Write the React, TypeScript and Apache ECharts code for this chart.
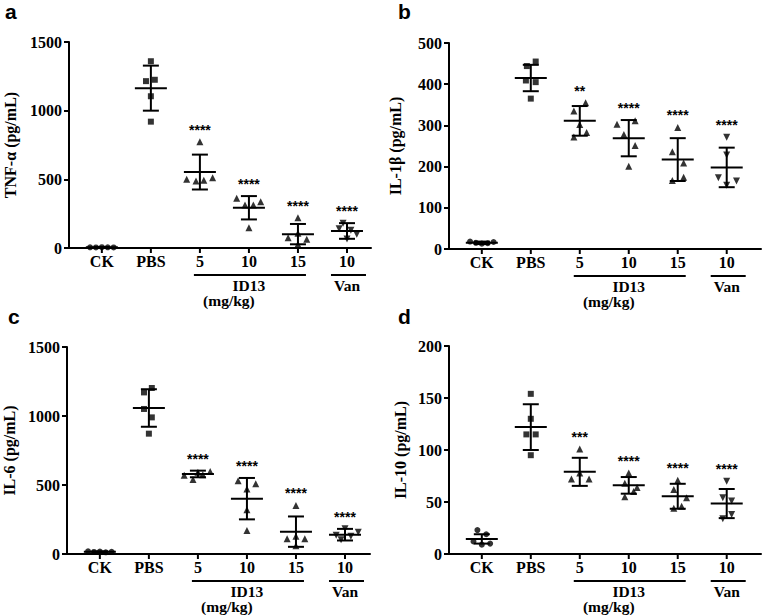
import React, { useEffect, useRef } from "react";
import * as echarts from "echarts";

// ---------- shared categories ----------
const categories = ["CK", "PBS", "5", "10", "15", "10"];
const groupSymbols = ["circle", "rect", "triangle", "triangle", "triangle", "triangle"];
const groupRotate = [0, 0, 0, 0, 0, 180];
const treatmentLabels = ["ID13", "Van"];
const treatmentFrom = [2, 5];
const treatmentTo = [4, 5];
const treatmentSub = ["(mg/kg)", ""];

// ---------- panel a : TNF-α ----------
const tnfTitle = "TNF-α (pg/mL)";
const tnfPoints = [
  [5, 4, 6, 5, 4],
  [1360, 1215, 1225, 1105, 920],
  [774, 500, 488, 493, 512],
  [362, 313, 313, 337, 148],
  [221, 75, 107, 63, 27],
  [180, 140, 130, 100, 65],
];
const tnfJitter = [
  [-0.24, -0.12, 0, 0.12, 0.24],
  [0, -0.1, 0.08, 0, 0],
  [0, -0.27, -0.08, 0.08, 0.26],
  [-0.25, -0.08, 0.09, 0.24, 0],
  [0, -0.2, 0, 0.18, 0],
  [-0.08, -0.16, 0.08, 0.2, 0],
];
const tnfMean = [5, 1164, 553, 293, 101, 124];
const tnfSd = [2, 164, 127, 85, 74, 57];
const tnfStars = ["", "", "****", "****", "****", "****"];

// ---------- panel b : IL-1β ----------
const il1Title = "IL-1β (pg/mL)";
const il1Points = [
  [18, 15, 13, 14, 17],
  [444, 455, 409, 405, 365],
  [355, 335, 302, 272, 283],
  [303, 311, 278, 251, 201],
  [295, 236, 209, 166, 174],
  [271, 228, 173, 165, 155],
];
const il1Jitter = [
  [-0.24, -0.12, 0, 0.12, 0.24],
  [-0.08, 0.1, -0.1, 0.1, 0],
  [0.12, -0.12, 0, -0.12, 0.14],
  [-0.24, 0.13, -0.1, 0.13, 0],
  [0, -0.11, 0.12, -0.11, 0.12],
  [0, 0, -0.17, 0.2, 0],
];
const il1Mean = [15, 415, 311, 269, 217, 198];
const il1Sd = [3, 32, 36, 44, 52, 48];
const il1Stars = ["", "", "**", "****", "****", "****"];

// ---------- panel c : IL-6 ----------
const il6Title = "IL-6 (pg/mL)";
const il6Points = [
  [20, 15, 18, 12, 16],
  [1203, 1171, 1051, 990, 872],
  [570, 540, 592, 575, 598],
  [531, 509, 471, 321, 171],
  [352, 111, 128, 111, 60],
  [183, 135, 104, 128, 157],
];
const il6Jitter = [
  [-0.24, -0.12, 0, 0.12, 0.24],
  [0.06, -0.1, -0.1, 0.06, 0],
  [-0.28, -0.1, 0, 0.1, 0.25],
  [-0.18, 0.18, 0, 0, 0],
  [0, -0.18, 0, 0.18, 0],
  [0, -0.18, -0.08, 0.12, 0.27],
];
const il6Mean = [16, 1058, 580, 401, 162, 140];
const il6Sd = [3, 136, 24, 150, 110, 42];
const il6Stars = ["", "", "****", "****", "****", "****"];

// ---------- panel d : IL-10 ----------
const il10Title = "IL-10 (pg/mL)";
const il10Points = [
  [23, 19, 12, 9, 10],
  [154, 130, 115, 115, 95],
  [101, 72, 72, 78],
  [78, 68, 64, 60, 55],
  [71, 62, 54, 44, 46],
  [70, 54, 51, 38, 34],
];
const il10Jitter = [
  [-0.09, 0.09, -0.17, 0, 0.17],
  [0, 0, -0.09, 0.1, 0],
  [0, -0.17, 0.19, 0],
  [0, -0.08, 0.17, 0.1, -0.08],
  [0, -0.08, 0.18, -0.08, 0.08],
  [0, -0.08, 0.1, 0.1, -0.08],
];
const il10Mean = [14.5, 122, 79, 66, 55.5, 48.5];
const il10Sd = [4.5, 22, 13.5, 8, 12, 14];
const il10Stars = ["", "", "***", "****", "****", "****"];

// ---------- layout (not data) ----------
const SERIF = '"Liberation Serif", "Times New Roman", serif';
const SANS = '"Liberation Sans", Arial, sans-serif';
const STAR_FONT = `bold 14px ${SANS}`;

const panels = [
  { letter: "a", lx: 5, ly: 22, title: tnfTitle, points: tnfPoints, jitter: tnfJitter, mean: tnfMean, sd: tnfSd, stars: tnfStars,
    grid: { left: 69, top: 42, right: 391, bottom: 367 }, xMin: -0.67, xMax: 5.49, yMax: 1500, step: 500, nameGap: 51 },
  { letter: "b", lx: 398, ly: 22, title: il1Title, points: il1Points, jitter: il1Jitter, mean: il1Mean, sd: il1Sd, stars: il1Stars,
    grid: { left: 449, top: 43, right: 1, bottom: 366 }, xMin: -0.67, xMax: 5.7, yMax: 500, step: 100, nameGap: 46 },
  { letter: "c", lx: 8, ly: 327, title: il6Title, points: il6Points, jitter: il6Jitter, mean: il6Mean, sd: il6Sd, stars: il6Stars,
    grid: { left: 67, top: 347, right: 392, bottom: 61 }, xMin: -0.67, xMax: 5.51, yMax: 1500, step: 500, nameGap: 50 },
  { letter: "d", lx: 398, ly: 327, title: il10Title, points: il10Points, jitter: il10Jitter, mean: il10Mean, sd: il10Sd, stars: il10Stars,
    grid: { left: 449, top: 346, right: 1, bottom: 61 }, xMin: -0.67, xMax: 5.7, yMax: 200, step: 50, nameGap: 41 },
];

const treatmentPadL = [6, 16];
const treatmentPadR = [8, 19];

function textEl(text: string, x: number, y: number, font: string) {
  return {
    type: "text",
    style: {
      text, x, y,
      textAlign: "center", textVerticalAlign: "middle", align: "center", verticalAlign: "middle",
      font, fill: "#000",
    },
  };
}

function buildOption() {
  const grids: any[] = [];
  const xAxes: any[] = [];
  const yAxes: any[] = [];
  const series: any[] = [];
  const graphics: any[] = [];

  panels.forEach((p, pi) => {
    grids.push({ ...p.grid, containLabel: false, outerBoundsMode: "none" });
    xAxes.push({
      gridIndex: pi, type: "value", min: p.xMin, max: p.xMax,
      axisLine: { show: true, onZero: false, lineStyle: { color: "#000", width: 2 } },
      axisTick: { show: false }, axisLabel: { show: false }, splitLine: { show: false },
    });
    yAxes.push({
      gridIndex: pi, type: "value", min: 0, max: p.yMax, interval: p.step,
      name: p.title, nameLocation: "middle", nameGap: p.nameGap, nameRotate: 90,
      nameTextStyle: { color: "#000", fontFamily: SERIF, fontWeight: "bold", fontSize: 16 },
      axisLine: { show: true, onZero: false, lineStyle: { color: "#000", width: 2 } },
      axisTick: { show: true, length: 5, lineStyle: { color: "#000", width: 2 } },
      axisLabel: { color: "#000", fontFamily: SERIF, fontWeight: "bold", fontSize: 16, margin: 7, formatter: (v: number) => String(v) },
      splitLine: { show: false },
    });

    // individual animals
    const pts: any[] = [];
    p.points.forEach((grp, gi) => {
      grp.forEach((v, k) => {
        pts.push({
          value: [gi + p.jitter[gi][k], v],
          symbol: groupSymbols[gi],
          symbolRotate: groupRotate[gi],
          symbolSize: groupSymbols[gi] === "triangle" ? 7 : 6,
        });
      });
    });
    series.push({ type: "scatter", xAxisIndex: pi, yAxisIndex: pi, data: pts, itemStyle: { color: "#000" }, z: 3 });

    // mean ± SD bars and significance stars
    const ebData = p.mean.map((m, gi) => [gi, m, p.sd[gi], Math.max(m + p.sd[gi], ...p.points[gi])]);
    const stars = p.stars;
    series.push({
      type: "custom", xAxisIndex: pi, yAxisIndex: pi, clip: false, z: 2,
      itemStyle: { color: "#000" },
      data: ebData,
      renderItem: (params: any, api: any) => {
        const x = api.value(0);
        const m = api.value(1);
        const s = api.value(2);
        const top = api.value(3);
        const pT = api.coord([x, m + s]);
        const pB = api.coord([x, m - s]);
        const pM = api.coord([x, m]);
        const pS = api.coord([x, top]);
        const st = { stroke: "#000", lineWidth: 2 };
        const children: any[] = [
          { type: "line", shape: { x1: pT[0], y1: pT[1], x2: pB[0], y2: pB[1] }, style: st },
          { type: "line", shape: { x1: pT[0] - 8, y1: pT[1], x2: pT[0] + 8, y2: pT[1] }, style: st },
          { type: "line", shape: { x1: pB[0] - 8, y1: pB[1], x2: pB[0] + 8, y2: pB[1] }, style: st },
          { type: "line", shape: { x1: pM[0] - 16, y1: pM[1], x2: pM[0] + 16, y2: pM[1] }, style: st },
        ];
        const label = stars[params.dataIndex];
        if (label) children.push(textEl(label, pS[0], pS[1] - 12, STAR_FONT));
        return { type: "group", children };
      },
    });

    // category ticks and labels
    series.push({
      type: "custom", xAxisIndex: pi, yAxisIndex: pi, clip: false, silent: true,
      itemStyle: { color: "#000" },
      data: categories.map((_, i) => [i, 0]),
      renderItem: (params: any, api: any) => {
        const c = api.coord([api.value(0), 0]);
        return {
          type: "group",
          children: [
            { type: "line", shape: { x1: c[0], y1: c[1], x2: c[0], y2: c[1] + 5 }, style: { stroke: "#000", lineWidth: 2 } },
            textEl(categories[params.dataIndex], c[0], c[1] + 13, `bold 16px ${SERIF}`),
          ],
        };
      },
    });

    // treatment underline and names
    series.push({
      type: "custom", xAxisIndex: pi, yAxisIndex: pi, clip: false, silent: true,
      itemStyle: { color: "#000" },
      data: treatmentLabels.map((_, i) => [treatmentFrom[i], treatmentTo[i]]),
      renderItem: (params: any, api: any) => {
        const i = params.dataIndex;
        const a = api.coord([api.value(0), 0]);
        const b = api.coord([api.value(1), 0]);
        const mid = (a[0] + b[0]) / 2;
        const children: any[] = [
          {
            type: "line",
            shape: { x1: a[0] - treatmentPadL[i], y1: a[1] + 27, x2: b[0] + treatmentPadR[i], y2: a[1] + 27 },
            style: { stroke: "#000", lineWidth: 2 },
          },
          textEl(treatmentLabels[i], mid, a[1] + 37.5, `bold 15.5px ${SERIF}`),
        ];
        if (treatmentSub[i]) children.push(textEl(treatmentSub[i], mid - 20, a[1] + 52.5, `bold 15.5px ${SERIF}`));
        return { type: "group", children };
      },
    });

    graphics.push({
      type: "text", x: p.lx, y: p.ly,
      style: { text: p.letter, font: `bold 21px ${SANS}`, fill: "#000", textVerticalAlign: "bottom", verticalAlign: "bottom" },
    });
  });

  return {
    animation: false,
    backgroundColor: "#fff",
    color: ["#000"],
    grid: grids,
    xAxis: xAxes,
    yAxis: yAxes,
    series,
    graphic: graphics,
  };
}

export default function App() {
  const ref = useRef<HTMLDivElement>(null);
  useEffect(() => {
    if (!ref.current) return;
    const chart = echarts.init(ref.current, undefined, { renderer: "svg" });
    chart.setOption(buildOption());
    return () => chart.dispose();
  }, []);
  return <div ref={ref} style={{ position: "fixed", left: 0, top: 0, width: 762, height: 615, background: "#fff" }} />;
}
